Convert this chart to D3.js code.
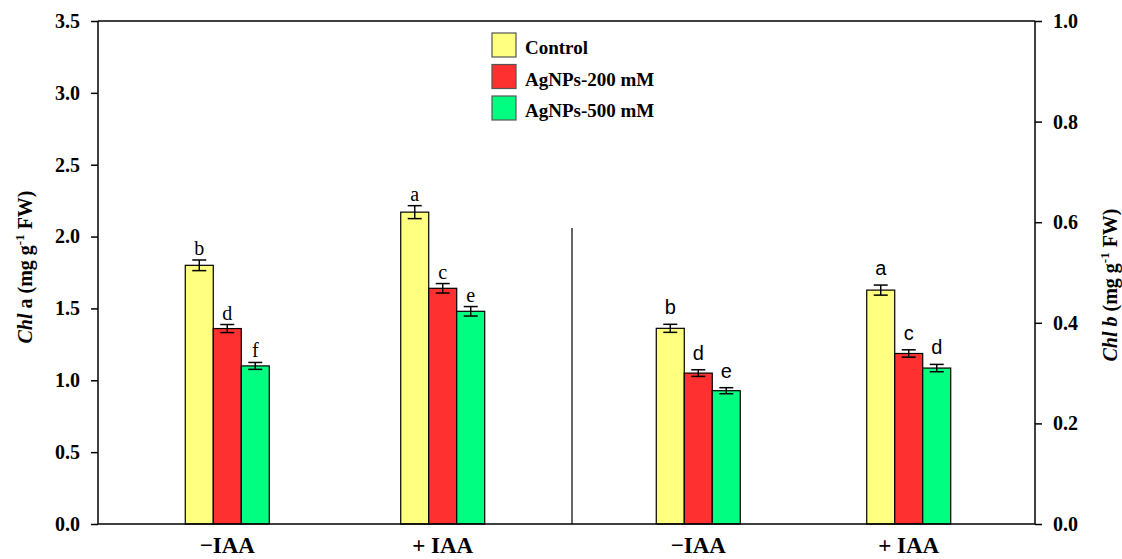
<!DOCTYPE html>
<html>
<head>
<meta charset="utf-8">
<script src="https://cdn.jsdelivr.net/npm/d3@7"></script>
<style>
  body { margin: 0; background: #fff; }
  svg { display: block; }
  .serif { font-family: "Liberation Serif", "Times New Roman", serif; }
  .sans { font-family: "Liberation Sans", Arial, sans-serif; }
</style>
</head>
<body>
<svg id="chart" width="1122" height="559"></svg>
<script>
  // Treatments on the x axis, series inside each group
  const groupLabels = ["\u2212IAA", "+ IAA"];
  const series = ["Control", "AgNPs-200 mM", "AgNPs-500 mM"];
  const seriesColors = ["#ffff80", "#ff3030", "#00ff80"];

  // Chl a (left axis), one row per group, one value per series
  const chlAValues = [[1.80, 1.36, 1.10], [2.17, 1.64, 1.48]];
  const chlAErrors = [[0.037, 0.028, 0.024], [0.045, 0.033, 0.033]];
  const chlALetters = [["b", "d", "f"], ["a", "c", "e"]];

  // Chl b (right axis)
  const chlBValues = [[0.389, 0.300, 0.265], [0.465, 0.339, 0.310]];
  const chlBErrors = [[0.008, 0.0066, 0.006], [0.010, 0.0073, 0.0073]];
  const chlBLetters = [["b", "d", "e"], ["a", "c", "d"]];

  const leftTicks = [0, 0.5, 1.0, 1.5, 2.0, 2.5, 3.0, 3.5];
  const rightTicks = [0, 0.2, 0.4, 0.6, 0.8, 1.0];

  const svg = d3.select("#chart");
  const plotLeft = 98, plotRight = 1035, plotTop = 21, plotBottom = 524, split = 572;

  const yA = d3.scaleLinear().domain([0, 3.5]).range([plotBottom, plotTop]);
  const yB = d3.scaleLinear().domain([0, 1.0]).range([plotBottom, plotTop]);

  const xA = d3.scalePoint().domain(groupLabels).range([plotLeft, split]).padding(0.6);
  const xB = d3.scalePoint().domain(groupLabels).range([split, plotRight]).padding(0.6);
  const xInner = d3.scaleBand().domain(series).range([-42, 42]);
  const color = d3.scaleOrdinal().domain(series).range(seriesColors);

  function drawPanel(xScale, yScale, values, errors, letters, letterClass, letterGap) {
    const g = svg.append("g");
    groupLabels.forEach((grp, gi) => {
      const cx = xScale(grp);
      series.forEach((s, si) => {
        const v = values[gi][si], e = errors[gi][si];
        const x0 = cx + xInner(s);
        const xm = x0 + xInner.bandwidth() / 2;
        g.append("rect")
          .attr("x", x0).attr("y", yScale(v))
          .attr("width", xInner.bandwidth())
          .attr("height", yScale(0) - yScale(v))
          .attr("fill", color(s)).attr("stroke", "#000").attr("stroke-width", 1.2);
        const eb = g.append("g").attr("stroke", "#000").attr("stroke-width", 1.5);
        eb.append("line").attr("x1", xm).attr("x2", xm).attr("y1", yScale(v + e)).attr("y2", yScale(v - e));
        eb.append("line").attr("x1", xm - 7).attr("x2", xm + 7).attr("y1", yScale(v + e)).attr("y2", yScale(v + e));
        eb.append("line").attr("x1", xm - 7).attr("x2", xm + 7).attr("y1", yScale(v - e)).attr("y2", yScale(v - e));
        g.append("text")
          .attr("class", letterClass)
          .attr("x", xm).attr("y", yScale(v + e) - letterGap)
          .attr("text-anchor", "middle")
          .attr("font-size", 20)
          .text(letters[gi][si]);
      });
      svg.append("text")
        .attr("class", "serif")
        .attr("x", cx).attr("y", 553)
        .attr("text-anchor", "middle")
        .attr("font-size", 23).attr("font-weight", "bold")
        .text(grp);
    });
  }

  drawPanel(xA, yA, chlAValues, chlAErrors, chlALetters, "serif", 5);
  drawPanel(xB, yB, chlBValues, chlBErrors, chlBLetters, "sans", 10);

  // frame lines
  const frame = svg.append("g").attr("stroke", "#000").attr("stroke-width", 1.5);
  frame.append("line").attr("x1", plotLeft).attr("x2", plotRight).attr("y1", plotTop).attr("y2", plotTop);
  frame.append("line").attr("x1", plotLeft).attr("x2", plotRight).attr("y1", plotBottom).attr("y2", plotBottom);
  frame.append("line").attr("x1", split).attr("x2", split).attr("y1", 228).attr("y2", plotBottom).attr("stroke-width", 1.2);

  // axes
  const leftAxis = svg.append("g").attr("transform", `translate(${plotLeft},0)`)
    .call(d3.axisLeft(yA).tickValues(leftTicks).tickFormat(d3.format(".1f")).tickSize(7).tickPadding(11));
  const rightAxis = svg.append("g").attr("transform", `translate(${plotRight},0)`)
    .call(d3.axisRight(yB).tickValues(rightTicks).tickFormat(d3.format(".1f")).tickSize(7).tickPadding(11));
  [leftAxis, rightAxis].forEach((ax) => {
    ax.select(".domain").attr("stroke-width", 1.5).attr("d", `M0,${plotTop}V${plotBottom}`);
    ax.selectAll(".tick line").attr("stroke-width", 1.5);
    ax.selectAll(".tick text")
      .attr("class", "serif").attr("font-size", 20).attr("font-weight", "bold").attr("fill", "#000");
  });

  // axis titles
  function axisTitle(x, y, sub) {
    const t = svg.append("text")
      .attr("class", "serif")
      .attr("transform", `translate(${x},${y}) rotate(-90)`)
      .attr("text-anchor", "middle")
      .attr("font-size", 20).attr("font-weight", "bold");
    t.append("tspan").attr("font-style", "italic").text("Chl");
    t.append("tspan").attr("font-style", sub === "b" ? "italic" : "normal").text(" " + sub);
    t.append("tspan").text(" (mg g");
    t.append("tspan").attr("font-size", 13).attr("dy", -8).text("-1");
    t.append("tspan").attr("dy", 8).text(" FW)");
  }
  axisTitle(32, 267, "a");
  axisTitle(1117, 285, "b");

  // legend
  const legend = svg.append("g").attr("transform", "translate(492,33)");
  series.forEach((s, i) => {
    const row = legend.append("g").attr("transform", `translate(0,${i * 31.5})`);
    row.append("rect").attr("width", 24).attr("height", 24)
      .attr("fill", color(s)).attr("stroke", "#555").attr("stroke-width", 1.2);
    row.append("text").attr("class", "serif")
      .attr("x", 33).attr("y", 21)
      .attr("font-size", 19).attr("font-weight", "bold")
      .text(s);
  });
</script>
</body>
</html>
